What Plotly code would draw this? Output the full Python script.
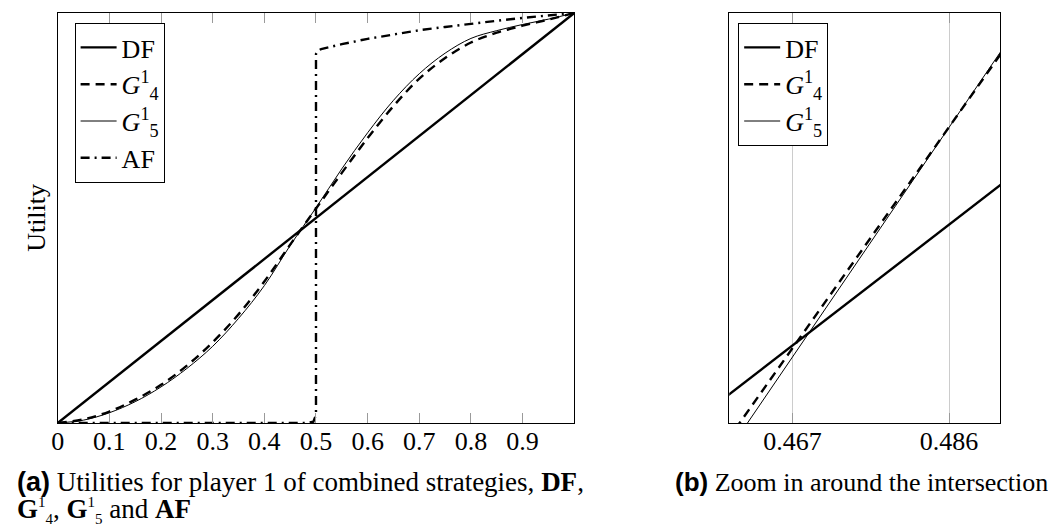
import plotly.graph_objects as go

# ---------------- data ----------------
# left panel (full range)
x_full = [0, 0.05, 0.1, 0.15, 0.2, 0.25, 0.3, 0.35, 0.4, 0.45, 0.5,
          0.55, 0.6, 0.65, 0.7, 0.75, 0.8, 0.85, 0.9, 0.95, 1.0]
g4_full = [0, 0.009, 0.028, 0.057, 0.093, 0.14, 0.197, 0.265, 0.345, 0.435, 0.523,
           0.61, 0.695, 0.773, 0.84, 0.89, 0.928, 0.952, 0.969, 0.984, 1.0]
g5_full = [0, 0.007, 0.025, 0.052, 0.088, 0.133, 0.187, 0.255, 0.335, 0.433, 0.525,
           0.62, 0.708, 0.787, 0.852, 0.902, 0.938, 0.957, 0.972, 0.985, 1.0]
df_x = [0, 1]
df_y = [0, 1]
af_x = [0, 0.2, 0.4, 0.48, 0.495, 0.5, 0.5, 0.503, 0.51, 0.55, 0.6, 0.65, 0.7,
        0.75, 0.8, 0.85, 0.9, 0.95, 1.0]
af_y = [0, 0, 0, 0.0, 0.003, 0.02, 0.9, 0.908, 0.912, 0.924, 0.937, 0.948, 0.958,
        0.966, 0.974, 0.981, 0.988, 0.994, 1.0]

# right panel (zoom around the intersection)
x_zoom = [0.459, 0.462, 0.465, 0.468, 0.471, 0.474, 0.477, 0.480, 0.483, 0.486, 0.489, 0.4925]
g4_zoom = [0.45194, 0.45743, 0.46293, 0.46842, 0.47390, 0.47940, 0.48489, 0.49038,
           0.49587, 0.50136, 0.50685, 0.51325]
g5_zoom = [0.4500, 0.4557, 0.4614, 0.4671, 0.4728, 0.4785, 0.4842, 0.4899,
           0.4956, 0.5013, 0.5070, 0.51365]

left_ticks = [0, 0.1, 0.2, 0.3, 0.4, 0.5, 0.6, 0.7, 0.8, 0.9]
left_ticktext = ["0", "0.1", "0.2", "0.3", "0.4", "0.5", "0.6", "0.7", "0.8", "0.9"]
right_ticks = [0.467, 0.486]
right_ticktext = ["0.467", "0.486"]

names = ["DF", "<i>G</i><sup>1</sup><sub>4</sub>", "<i>G</i><sup>1</sup><sub>5</sub>", "AF"]

# ---------------- figure ----------------
W, H = 1056, 526
SERIF = "Liberation Serif"
FS = 26
CAP_FS = 27
BLACK = "#000000"
THICK = 2.4

fig = go.Figure()

# left panel
fig.add_trace(go.Scatter(x=df_x, y=df_y, mode="lines", name=names[0],
                         line=dict(color=BLACK, width=THICK), xaxis="x", yaxis="y", legend="legend"))
fig.add_trace(go.Scatter(x=x_full, y=g4_full, mode="lines", name=names[1],
                         line=dict(color=BLACK, width=THICK, dash="9px,6px", shape="spline"),
                         xaxis="x", yaxis="y", legend="legend"))
fig.add_trace(go.Scatter(x=x_full, y=g5_full, mode="lines", name=names[2],
                         line=dict(color=BLACK, width=1, shape="spline"),
                         xaxis="x", yaxis="y", legend="legend"))
fig.add_trace(go.Scatter(x=af_x, y=af_y, mode="lines", name=names[3],
                         line=dict(color=BLACK, width=THICK, dash="9px,5px,2px,5px"),
                         xaxis="x", yaxis="y", legend="legend"))

# right panel
fig.add_trace(go.Scatter(x=df_x, y=df_y, mode="lines", name=names[0],
                         line=dict(color=BLACK, width=THICK), xaxis="x2", yaxis="y2", legend="legend2"))
fig.add_trace(go.Scatter(x=x_zoom, y=g4_zoom, mode="lines", name=names[1],
                         line=dict(color=BLACK, width=THICK, dash="9px,6px"),
                         xaxis="x2", yaxis="y2", legend="legend2"))
fig.add_trace(go.Scatter(x=x_zoom, y=g5_zoom, mode="lines", name=names[2],
                         line=dict(color=BLACK, width=1),
                         xaxis="x2", yaxis="y2", legend="legend2"))

ydom = [(H - 415) / H, (H - 5) / H]

xaxis_common = dict(showline=True, linecolor=BLACK, linewidth=1, mirror="ticks",
                    ticks="inside", ticklen=10, tickwidth=1, tickcolor="#9a9a9a",
                    ticklabelstandoff=-5,
                    zeroline=False, tickfont=dict(family=SERIF, size=FS, color=BLACK))
yaxis_common = dict(showline=True, linecolor=BLACK, linewidth=1, mirror=True,
                    ticks="", showticklabels=False, zeroline=False, showgrid=False)

legend_common = dict(font=dict(family=SERIF, size=FS, color=BLACK), bgcolor="white",
                     bordercolor=BLACK, borderwidth=1, xanchor="left", yanchor="top",
                     xref="paper", yref="paper", tracegroupgap=0, itemwidth=36)

fig.update_layout(
    width=W, height=H,
    margin=dict(l=0, r=0, t=0, b=0, pad=0),
    paper_bgcolor="white", plot_bgcolor="white",
    xaxis=dict(domain=[43 / W, 563 / W], range=[0, 1], tickvals=left_ticks,
               ticktext=left_ticktext, showgrid=False, anchor="y", **xaxis_common),
    yaxis=dict(domain=ydom, range=[0, 1], anchor="x", **yaxis_common),
    xaxis2=dict(domain=[719 / W, 992 / W], range=[0.45931, 0.49224], tickvals=right_ticks,
                ticktext=right_ticktext, showgrid=True, gridcolor="#cccccc", gridwidth=1,
                anchor="y2", **xaxis_common),
    yaxis2=dict(domain=ydom, range=[0.4548, 0.5193], anchor="x2", **yaxis_common),
    legend=dict(x=60 / W, y=1 - 15 / H, **legend_common),
    legend2=dict(x=728 / W, y=1 - 15 / H, **legend_common),
    showlegend=True,
)

SS = '<span style="font-size:15px">'
annotations = [
    dict(text="Utility", x=22 / W, y=1 - 210 / H, xref="paper", yref="paper",
         textangle=-90, showarrow=False, xanchor="center", yanchor="middle",
         font=dict(family=SERIF, size=FS, color=BLACK)),
    dict(text='<span style="font-family:Liberation Sans"><b>(a)</b></span> Utilities for player 1 of combined strategies, <b>DF</b>,',
         x=0, y=1 - 474 / H, xref="paper", yref="paper", showarrow=False,
         xanchor="left", yanchor="middle", font=dict(family=SERIF, size=CAP_FS, color=BLACK)),
    dict(text=(f"<b>G</b><sup>{SS}1</span></sup><sub>{SS}4</span></sub>, "
               f"<b>G</b><sup>{SS}1</span></sup><sub>{SS}5</span></sub> and <b>AF</b>"),
         x=0, y=1 - 502 / H, xref="paper", yref="paper", showarrow=False,
         xanchor="left", yanchor="middle", font=dict(family=SERIF, size=CAP_FS, color=BLACK)),
    dict(text='<span style="font-family:Liberation Sans"><b>(b)</b></span> Zoom in around the intersection',
         x=662 / W, y=1 - 474 / H, xref="paper", yref="paper", showarrow=False,
         xanchor="left", yanchor="middle", font=dict(family=SERIF, size=26, color=BLACK)),
]
fig.update_layout(annotations=annotations)

fig.write_html("out.html")
